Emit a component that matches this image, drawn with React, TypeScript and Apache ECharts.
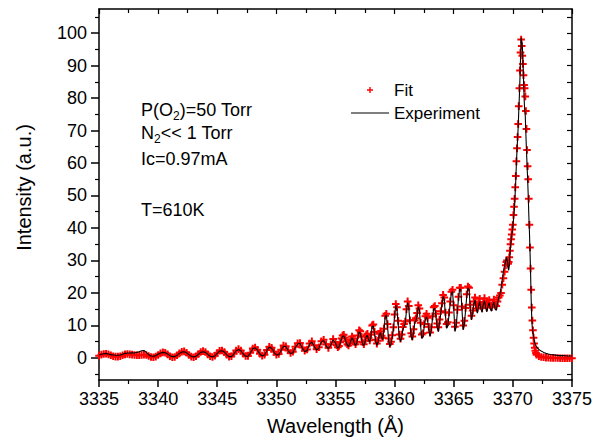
import React, { useEffect, useRef } from 'react';
import * as echarts from 'echarts';

const FONT = '"Liberation Sans", Arial, Helvetica, sans-serif';

// Axis ticks
const yMajor = [0, 10, 20, 30, 40, 50, 60, 70, 80, 90, 100];
const yMinor = [-5, 5, 15, 25, 35, 45, 55, 65, 75, 85, 95, 105];
const yAllTicks = [-5, 0, 5, 10, 15, 20, 25, 30, 35, 40, 45, 50, 55, 60, 65, 70, 75, 80, 85, 90, 95, 100, 105];

// Segment A: 3335.0 .. 3354.8 step 0.2
const segAStart = 3335.0;
const segAStep = 0.2;
const expA = [
  0.9, 1.1, 1.3, 1.4, 1.2, 1.0, 0.9, 0.8, 0.8, 0.9,
  1.1, 1.4, 1.5, 1.5, 1.6, 1.5, 1.7, 1.9, 2.2, 2.3,
  1.7, 1.0, 0.6, 0.5, 0.7, 1.1, 1.5, 1.7, 1.6, 1.2,
  0.7, 0.4, 0.4, 0.8, 1.4, 1.8, 1.9, 1.6, 1.0, 0.5,
  0.3, 0.5, 1.1, 1.7, 1.9, 1.7, 1.1, 0.5, 0.3, 0.6,
  1.4, 2.1, 2.2, 1.8, 1.0, 0.4, 0.4, 1.2, 2.2, 2.6,
  2.2, 1.2, 0.5, 0.5, 1.5, 2.8, 3.1, 2.4, 1.2, 0.6,
  0.9, 2.3, 3.3, 3.0, 1.8, 0.9, 1.0, 2.3, 3.6, 3.5,
  2.2, 1.3, 1.6, 3.2, 4.3, 4.5, 3.0, 1.9, 2.3, 4.2,
  4.9, 3.6, 2.4, 3.0, 4.9, 5.4, 3.8, 2.8, 3.9, 5.6,
];
const fitA = [
  0.7, 1.0, 1.2, 1.3, 1.1, 0.8, 0.5, 0.4, 0.4, 0.5,
  0.8, 1.1, 1.2, 1.1, 1.0, 0.9, 0.8, 0.8, 0.9, 1.0,
  0.9, 0.6, 0.3, 0.2, 0.4, 0.9, 1.4, 1.7, 1.6, 1.1,
  0.5, 0.2, 0.3, 0.8, 1.4, 1.9, 2.0, 1.6, 0.9, 0.4,
  0.2, 0.5, 1.2, 1.8, 2.1, 1.8, 1.1, 0.5, 0.3, 0.7,
  1.5, 2.2, 2.3, 1.8, 1.0, 0.4, 0.5, 1.3, 2.3, 2.7,
  2.3, 1.3, 0.6, 0.6, 1.6, 2.9, 3.2, 2.5, 1.3, 0.7,
  1.0, 2.4, 3.4, 3.1, 1.9, 1.0, 1.2, 2.5, 3.8, 3.6,
  2.3, 1.5, 1.9, 3.4, 4.5, 4.6, 3.2, 2.2, 2.6, 4.4,
  5.1, 3.9, 2.7, 3.3, 5.1, 5.6, 4.1, 3.1, 4.2, 5.8,
];

// Segment B: 3355.0 .. 3369.4 step 0.1
const segBStart = 3355.0;
const segBStep = 0.1;
const expB = [
  4.6, 3.6, 3.0, 3.4, 4.5, 5.8, 6.6, 6.8, 6.0, 4.8,
  3.9, 3.5, 4.2, 5.4, 6.2, 5.5, 4.4, 3.8, 4.6, 6.5,
  8.0, 7.6, 5.9, 4.3, 3.8, 4.9, 6.6, 6.9, 5.6, 4.9,
  6.8, 9.6, 9.8, 7.5, 5.0, 3.9, 4.8, 7.0, 7.8, 6.2,
  5.6, 8.5, 12.6, 13.2, 9.8, 5.2, 3.5, 4.3, 6.4, 8.8,
  13.0, 16.2, 15.0, 10.5, 6.3, 5.0, 6.4, 8.8, 9.6, 10.5,
  14.5, 17.0, 15.4, 10.6, 6.6, 5.5, 7.8, 10.8, 11.4, 13.0,
  15.8, 14.6, 9.8, 6.0, 6.4, 9.5, 11.8, 12.6, 11.2, 8.4,
  6.6, 8.4, 12.0, 15.0, 15.3, 12.6, 9.4, 8.1, 10.8, 13.6,
  16.2, 18.9, 18.0, 13.0, 9.1, 9.8, 13.2, 16.8, 20.0, 20.4,
  15.2, 8.1, 9.4, 13.8, 18.2, 21.2, 21.0, 14.6, 8.6, 10.2,
  14.6, 19.0, 21.6, 21.0, 15.2, 11.7, 13.4, 16.6, 17.8, 15.2,
  13.8, 15.8, 17.4, 15.0, 14.0, 16.4, 17.6, 15.4, 14.2, 16.0,
  17.0, 15.0, 14.4, 16.2, 17.2, 15.0, 14.6, 16.6, 18.4, 19.5,
  21.5, 24.0, 26.5, 28.5, 30.0,
];
const fitB = [
  4.8, 3.9, 3.3, 3.7, 4.8, 6.0, 6.9, 7.1, 6.3, 5.1,
  4.2, 3.8, 4.5, 5.7, 6.6, 6.0, 4.9, 4.2, 5.0, 6.9,
  8.5, 8.2, 6.5, 4.8, 4.2, 5.3, 7.0, 7.4, 6.1, 5.4,
  7.2, 10.0, 10.3, 8.0, 5.6, 4.4, 5.3, 7.4, 8.2, 6.8,
  6.2, 9.0, 13.0, 13.6, 10.4, 6.0, 4.3, 5.0, 7.0, 9.4,
  13.4, 16.6, 15.6, 11.4, 7.2, 5.9, 7.2, 9.5, 10.4, 11.2,
  15.0, 17.4, 16.0, 11.6, 7.6, 6.6, 8.8, 11.6, 12.2, 13.8,
  16.2, 15.2, 10.8, 7.2, 7.6, 10.4, 12.8, 13.6, 12.4, 9.6,
  7.8, 9.4, 12.8, 15.6, 16.0, 13.6, 10.6, 9.4, 11.8, 14.4,
  16.8, 19.4, 18.6, 14.0, 10.4, 11.0, 14.0, 17.4, 20.4, 21.0,
  16.2, 9.6, 10.8, 14.8, 18.8, 21.6, 21.6, 15.8, 10.0, 11.4,
  15.4, 19.6, 22.0, 21.6, 16.4, 13.0, 14.6, 17.4, 18.6, 16.4,
  15.2, 16.8, 18.2, 16.2, 15.4, 17.2, 18.4, 16.6, 15.6, 16.8,
  17.8, 16.2, 15.6, 17.0, 18.0, 16.4, 16.0, 17.4, 18.6, 19.2,
  20.0, 22.5, 24.5, 26.5, 28.5,
];

// Segment C: 3369.45 .. 3372.0 step 0.05 (band head)
const segCStart = 3369.45;
const segCStep = 0.05;
const expC = [
  31.0, 31.0, 29.5, 27.5, 27.0, 28.5, 31.5, 34.0, 36.0, 37.5, 39.0,
  40.5, 42.5, 44.5, 47.0, 51.0, 55.0, 60.0, 64.0, 67.5, 71.0,
  76.0, 80.5, 86.0, 92.5, 98.5, 97.5, 96.0, 92.0, 86.0, 80.0,
  76.3, 74.5, 69.0, 64.0, 59.5, 55.0, 50.0, 44.0, 39.0, 33.0,
  26.0, 18.0, 12.0, 9.0, 7.6, 6.6, 5.6, 4.8, 4.2, 3.8,
  3.4,
];
const fitC = [
  29.5, 30.0, 29.5, 29.0, 29.5, 31.0, 33.0, 35.0, 36.5, 38.0, 39.5,
  41.0, 44.0, 46.5, 49.0, 52.5, 56.0, 60.5, 64.5, 68.0, 72.0,
  77.5, 83.0, 88.5, 94.0, 98.0, 96.0, 93.0, 90.5, 87.0, 84.0,
  83.0, 80.5, 76.0, 70.5, 64.0, 59.0, 55.0, 49.0, 41.0, 34.0,
  27.5, 21.0, 15.5, 11.5, 8.5, 6.2, 4.4, 3.1, 2.2, 1.5,
  1.0,
];

// Segment D: 3372.2 .. 3375.0 step 0.2
const segDStart = 3372.2;
const segDStep = 0.2;
const expD = [2.6, 2.1, 1.7, 1.4, 1.2, 1.05, 0.95, 0.85, 0.75, 0.7, 0.7, 0.65, 0.6, 0.6, 0.6];
const fitD = [0.5, 0.3, 0.2, 0.1, 0.05, 0.0, 0.0, -0.05, -0.05, -0.1, -0.1, -0.1, -0.1, -0.1, -0.1];

const segments = [
  { start: segAStart, step: segAStep, exp: expA, fit: fitA },
  { start: segBStart, step: segBStep, exp: expB, fit: fitB },
  { start: segCStart, step: segCStep, exp: expC, fit: fitC },
  { start: segDStart, step: segDStep, exp: expD, fit: fitD },
];

function buildSeries(key: 'exp' | 'fit'): number[][] {
  const out: number[][] = [];
  segments.forEach((s) => {
    s[key].forEach((v, i) => {
      out.push([+(s.start + i * s.step).toFixed(3), v]);
    });
  });
  return out;
}

const PLUS = 'path://M2.8,0h2.0v2.8h2.8v2.0h-2.8v2.8h-2.0v-2.8h-2.8v-2.0h2.8z';
const LEGEND_PLUS =
  'path://M0,0h0.01v0.01h-0.01z M37.99,7.99h0.01v0.01h-0.01z M18.3,1h1.4v2.3h2.3v1.4h-2.3v2.3h-1.4v-2.3h-2.3v-1.4h2.3z';
const LEGEND_LINE =
  'path://M0,0h0.01v0.01h-0.01z M37.99,7.99h0.01v0.01h-0.01z M0,3.5h38v1.1h-38z';

export default function App() {
  const ref = useRef<HTMLDivElement>(null);
  useEffect(() => {
    if (!ref.current) return;
    const chart = echarts.init(ref.current, null, { renderer: 'svg' });
    const black = '#000';
    const lineW = 1.5;
    const richSub = {
      n: { fontSize: 18, lineHeight: 24, fontFamily: FONT, color: black },
      s: { fontSize: 12, lineHeight: 12, verticalAlign: 'bottom', fontFamily: FONT, color: black },
    };
    chart.setOption({
      animation: false,
      backgroundColor: '#fff',
      grid: { left: 99, right: 19, top: 9, bottom: 61, containLabel: false },
      legend: {
        orient: 'vertical',
        left: 351,
        top: 81.5,
        padding: 0,
        itemWidth: 38,
        itemHeight: 8,
        itemGap: 6,
        textStyle: { fontSize: 17, lineHeight: 17, color: black, fontFamily: FONT },
        data: [
          { name: 'Fit', icon: LEGEND_PLUS },
          { name: 'Experiment', icon: LEGEND_LINE },
        ],
      },
      xAxis: [
        {
          type: 'value',
          min: 3335,
          max: 3375,
          interval: 5,
          position: 'bottom',
          axisLine: { show: true, onZero: false, lineStyle: { color: black, width: lineW } },
          axisTick: { show: true, inside: false, length: 7, lineStyle: { color: black, width: lineW } },
          minorTick: { show: true, splitNumber: 2, length: 4, lineStyle: { color: black, width: 1.2 } },
          splitLine: { show: false },
          minorSplitLine: { show: false },
          axisLabel: {
            fontSize: 18,
            color: black,
            fontFamily: FONT,
            margin: 10,
            formatter: (v: number) => String(v),
          },
          name: 'Wavelength (Å)',
          nameLocation: 'middle',
          nameGap: 36,
          nameTextStyle: { fontSize: 20, color: black, fontFamily: FONT },
        },
        {
          type: 'value',
          min: 3335,
          max: 3375,
          interval: 5,
          position: 'top',
          axisLine: { show: true, onZero: false, lineStyle: { color: black, width: lineW } },
          axisTick: { show: true, inside: true, length: 5, lineStyle: { color: black, width: 1.2 } },
          minorTick: { show: true, splitNumber: 2, length: 4, lineStyle: { color: black, width: 1.2 } },
          splitLine: { show: false },
          axisLabel: { show: false },
        },
      ],
      yAxis: [
        {
          type: 'value',
          min: -6.8,
          max: 107.4,
          position: 'left',
          axisLine: { show: true, onZero: false, lineStyle: { color: black, width: lineW } },
          axisTick: { show: true, inside: false, length: 8, customValues: yMajor, lineStyle: { color: black, width: lineW } },
          axisLabel: {
            customValues: yMajor,
            fontSize: 18,
            color: black,
            fontFamily: FONT,
            margin: 12,
            formatter: (v: number) => String(v),
          },
          splitLine: { show: false },
          name: 'Intensity (a.u.)',
          nameLocation: 'middle',
          nameGap: 65,
          nameTextStyle: { fontSize: 20, color: black, fontFamily: FONT, padding: [0, 0, 0, 14] },
        },
        {
          type: 'value',
          min: -6.8,
          max: 107.4,
          position: 'left',
          offset: 0,
          axisLine: { show: false },
          axisTick: { show: true, inside: false, length: 4, customValues: yMinor, lineStyle: { color: black, width: 1.2 } },
          axisLabel: { show: false },
          splitLine: { show: false },
        },
        {
          type: 'value',
          min: -6.8,
          max: 107.4,
          position: 'right',
          axisLine: { show: true, onZero: false, lineStyle: { color: black, width: lineW } },
          axisTick: { show: true, inside: true, length: 5, customValues: yAllTicks, lineStyle: { color: black, width: 1.2 } },
          axisLabel: { show: false },
          splitLine: { show: false },
        },
      ],
      graphic: [
        {
          type: 'text',
          x: 141,
          y: 110,
          style: {
            text: '{n|P(O}{s|2}{n|)=50 Torr}',
            align: 'left',
            verticalAlign: 'middle',
            fill: black,
            rich: richSub,
          },
        },
        {
          type: 'text',
          x: 141,
          y: 133,
          style: {
            text: '{n|N}{s|2}{n|<< 1 Torr}',
            align: 'left',
            verticalAlign: 'middle',
            fill: black,
            rich: richSub,
          },
        },
        {
          type: 'text',
          x: 141,
          y: 159,
          style: { text: 'Ic=0.97mA', align: 'left', verticalAlign: 'middle', fill: black, fontSize: 18, fontFamily: FONT },
        },
        {
          type: 'text',
          x: 141,
          y: 210,
          style: { text: 'T=610K', align: 'left', verticalAlign: 'middle', fill: black, fontSize: 18, fontFamily: FONT },
        },
      ],
      series: [
        {
          name: 'Fit',
          type: 'scatter',
          xAxisIndex: 0,
          yAxisIndex: 0,
          data: buildSeries('fit'),
          symbol: PLUS,
          symbolSize: 7.6,
          itemStyle: { color: '#ff0000', opacity: 1 },
          emphasis: { disabled: true },
        },
        {
          name: 'Experiment',
          type: 'line',
          xAxisIndex: 0,
          yAxisIndex: 0,
          data: buildSeries('exp'),
          showSymbol: false,
          symbol: 'none',
          smooth: false,
          lineStyle: { color: black, width: 1.1 },
          itemStyle: { color: black },
          emphasis: { disabled: true },
        },
      ],
    });
    return () => chart.dispose();
  }, []);
  return <div ref={ref} style={{ position: 'fixed', left: 0, top: 0, width: 595, height: 441 }} />;
}
